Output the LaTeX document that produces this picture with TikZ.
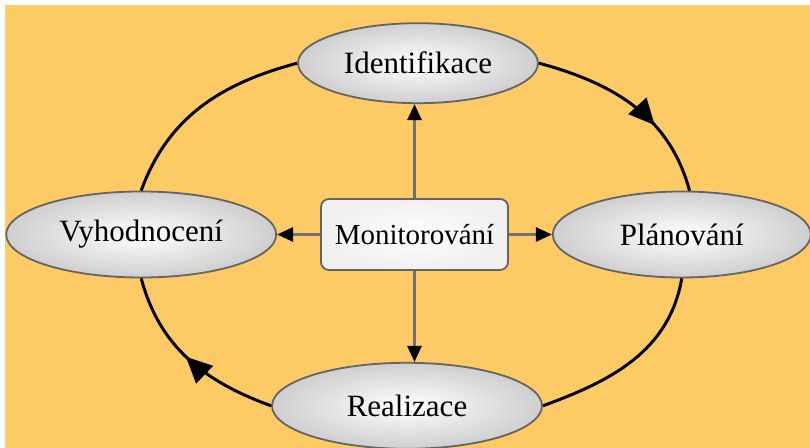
\documentclass[tikz,border=0pt]{standalone}
\usepackage{fontspec}
\setmainfont{Liberation Serif}
\usepackage{tikz}
\usetikzlibrary{arrows.meta,positioning,shapes.geometric,decorations.markings}
\definecolor{bgorange}{RGB}{254,202,102}
\definecolor{rimgray}{RGB}{100,100,100}
\definecolor{linkgray}{RGB}{112,112,112}

\begin{document}
\begin{tikzpicture}[
  node distance=47pt and 21.5pt,
  phase/.style={ellipse, draw=rimgray, line width=0.9pt, inner color=white, outer color=gray!38, minimum width=135pt, minimum height=43pt, font=\fontsize{15.5}{18}\selectfont},
  monbox/.style={draw=rimgray, line width=0.9pt, rounded corners=4pt, inner color=white, outer color=gray!12, minimum width=93.5pt, minimum height=35.5pt, font=\fontsize{14.5}{17}\selectfont},
  link/.style={draw=linkgray, line width=1.4pt, -{Triangle[length=8pt, width=7pt, color=black]}},
  loopline/.style={draw=black, line width=1.5pt},
  midarrow/.style={postaction={decorate}, decoration={markings, mark=at position #1 with {\arrow{Triangle[length=13pt, width=12pt]}}}},
]
\useasboundingbox (-207.25pt,-106.75pt) rectangle (197.75pt,117.25pt);
\fill[bgorange] (-204.75pt,-106.75pt) rectangle (197.75pt,114.75pt);

\node[monbox] (mon) {Monitorování};
\node[phase, minimum width=120pt, minimum height=40pt, above=of mon, xshift=1.75pt] (ident) {Identifikace};
\node[phase, minimum width=129pt, right=of mon] (plan) {Plánování};
\node[phase, left=of mon] (vyh) {Vyhodnocení};
\node[phase, below=of mon, xshift=-3.75pt, yshift=1.5pt] (real) {Realizace};

\draw[link] (mon.north) -- (mon.north |- ident.south);
\draw[link] (mon.east) -- (plan.west);
\draw[link] (mon.south) -- (mon.south |- real.north);
\draw[link] (mon.west) -- (vyh.east);

\draw[loopline, midarrow=0.64] (ident.east) to[out=-15, in=105] (plan.80);
\draw[loopline] (plan.south) to[out=-100, in=20] (real.east);
\draw[loopline, midarrow=0.52] (real.west) to[out=160, in=-75] (vyh.south);
\draw[loopline] (vyh.north) to[out=70, in=195] (ident.west);
\end{tikzpicture}
\end{document}
